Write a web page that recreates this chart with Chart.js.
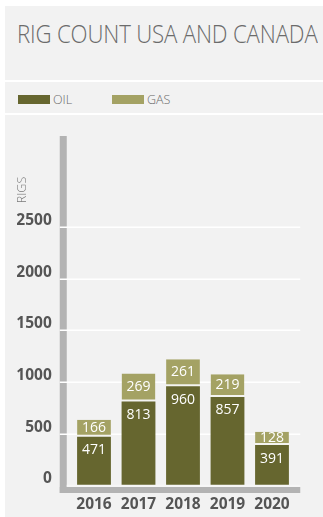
<!DOCTYPE html>
<html>
<head>
<meta charset="utf-8">
<title>Rig count USA and Canada</title>
<script src="https://cdn.jsdelivr.net/npm/chart.js@4.4.1/dist/chart.umd.min.js"></script>
<style>
  html, body { margin: 0; padding: 0; background: #ffffff; width: 323px; height: 517px; overflow: hidden; }
  #panel { position: absolute; left: 5px; top: 6px; width: 318px; height: 511px; background: #f2f2f2; }
  .sep { position: absolute; left: 5px; width: 318px; height: 2px; background: #ffffff; }
  #title {
    position: absolute; left: 17px; top: 21px; margin: 0;
    font-family: "Open Sans", sans-serif; font-weight: 300; font-size: 25px; line-height: 1;
    color: #6b6b6b; white-space: nowrap; letter-spacing: -0.2px;
    transform: scaleX(0.89); transform-origin: 0 0;
  }
  #legend { position: absolute; left: 0; top: 0; }
  .item { position: absolute; top: 94px; height: 14px; font-family: "Open Sans", sans-serif; font-weight: 300; font-size: 12.5px; line-height: 1; color: #6b6b6b; }
  .swatch { position: absolute; top: 1px; width: 32px; height: 9px; }
  .item span.txt { position: absolute; left: 35px; top: 0; white-space: nowrap; }
  #chart { position: absolute; left: 0; top: 0; }
</style>
</head>
<body>
<div id="panel"></div>
<div class="sep" style="top:80px"></div>
<div class="sep" style="top:113px"></div>
<h1 id="title">RIG COUNT USA AND CANADA</h1>
<div id="legend"></div>
<canvas id="chart" width="323" height="517"></canvas>
<script>
// Rig counts per year, oil and gas rigs stacked
const years = ['2016', '2017', '2018', '2019', '2020'];
const oilRigs = [471, 813, 960, 857, 391];
const gasRigs = [166, 269, 261, 219, 128];
const yTickValues = [0, 500, 1000, 1500, 2000, 2500];
const axisTitle = 'RIGS';

const OIL_COLOR = '#66662f';
const GAS_COLOR = '#a4a264';
const AXIS_GRAY = '#b3b3b3';
const TEXT_GRAY = '#555555';

// HTML legend built from the datasets
const legendItems = [
  { label: 'OIL', color: OIL_COLOR, left: 18 },
  { label: 'GAS', color: GAS_COLOR, left: 112 }
];
const legendEl = document.getElementById('legend');
legendItems.forEach(it => {
  const d = document.createElement('div');
  d.className = 'item';
  d.style.left = it.left + 'px';
  d.innerHTML = '<div class="swatch" style="background:' + it.color + '"></div><span class="txt">' + it.label + '</span>';
  legendEl.appendChild(d);
});

// Axis bars, white grid lines, axis title and value labels
const framePlugin = {
  id: 'frame',
  beforeDatasetsDraw(chart) {
    const { ctx, chartArea: a, scales: { y } } = chart;
    const left = a.left - 12;
    const right = a.right + 6;
    ctx.save();
    ctx.fillStyle = AXIS_GRAY;
    ctx.fillRect(left, a.top, 7, a.bottom + 7.5 - a.top);
    ctx.fillRect(left, a.bottom + 1.5, right - left, 6);
    ctx.strokeStyle = '#ffffff';
    ctx.lineWidth = 1.5;
    y.ticks.forEach(t => {
      if (t.value === 0) return;
      const py = Math.round(y.getPixelForValue(t.value)) + 0.25;
      ctx.beginPath();
      ctx.moveTo(left, py);
      ctx.lineTo(right, py);
      ctx.stroke();
    });
    // rotated axis title
    ctx.translate(22.5, 190);
    ctx.rotate(-Math.PI / 2);
    ctx.fillStyle = '#7a7a7a';
    ctx.font = '300 12.5px "Open Sans", sans-serif';
    ctx.textAlign = 'center';
    ctx.textBaseline = 'middle';
    ctx.fillText(axisTitle, 0, 0);
    ctx.restore();
  },
  afterDatasetsDraw(chart) {
    const { ctx, chartArea: a, scales: { y } } = chart;
    const left = a.left - 12;
    const right = a.right + 6;
    ctx.save();
    // zero line
    ctx.strokeStyle = '#f7f7f7';
    ctx.lineWidth = 2;
    const py0 = y.getPixelForValue(0);
    ctx.beginPath();
    ctx.moveTo(left + 7, py0 + 0.3);
    ctx.lineTo(right, py0 + 0.3);
    ctx.stroke();
    // value labels
    ctx.fillStyle = '#ffffff';
    ctx.font = '400 14px "Open Sans", sans-serif';
    ctx.textAlign = 'center';
    ctx.textBaseline = 'middle';
    chart.data.datasets.forEach((ds, di) => {
      const meta = chart.getDatasetMeta(di);
      meta.data.forEach((bar, i) => {
        const v = ds.data[i];
        const p = bar.getProps(['x', 'y', 'base'], true);
        let ty;
        if (ds.label === 'GAS') ty = (p.y + p.base) / 2 - 0.5;
        else ty = p.y + 13.5;
        ctx.fillText(String(v), p.x, ty);
      });
    });
    ctx.restore();
  }
};

new Chart(document.getElementById('chart'), {
  type: 'bar',
  data: {
    labels: years,
    datasets: [
      {
        label: 'OIL',
        data: oilRigs,
        backgroundColor: OIL_COLOR,
        borderWidth: 0
      },
      {
        label: 'GAS',
        data: gasRigs,
        backgroundColor: GAS_COLOR,
        borderColor: '#f4f4f0',
        borderWidth: { top: 0, left: 0, right: 0, bottom: 2 },
        borderSkipped: false
      }
    ]
  },
  options: {
    responsive: false,
    animation: false,
    devicePixelRatio: 1,
    layout: { padding: { top: 136, right: 28.75, bottom: 0, left: 17 } },
    datasets: { bar: { barPercentage: 0.76, categoryPercentage: 1 } },
    plugins: {
      legend: { display: false },
      title: { display: false },
      tooltip: { enabled: false }
    },
    scales: {
      x: {
        stacked: true,
        grid: { display: false, drawTicks: false },
        border: { display: false },
        ticks: {
          color: TEXT_GRAY,
          font: { family: '"Open Sans", sans-serif', weight: 'bold', size: 15.5 },
          padding: 10,
          maxRotation: 0
        },
        afterFit(scale) { scale.height = 31.5; }
      },
      y: {
        stacked: true,
        min: 0,
        max: 3380,
        grid: { display: false, drawTicks: false },
        border: { display: false },
        ticks: {
          stepSize: 500,
          color: TEXT_GRAY,
          font: { family: '"Open Sans", sans-serif', weight: 'bold', size: 15.5 },
          padding: 20,
          labelOffset: -6.5,
          callback: (v) => String(v)
        },
        afterBuildTicks(scale) {
          scale.ticks = yTickValues.map(v => ({ value: v }));
        },
        afterFit(scale) { scale.width = 54.75; }
      }
    }
  },
  plugins: [framePlugin]
});
</script>
</body>
</html>
